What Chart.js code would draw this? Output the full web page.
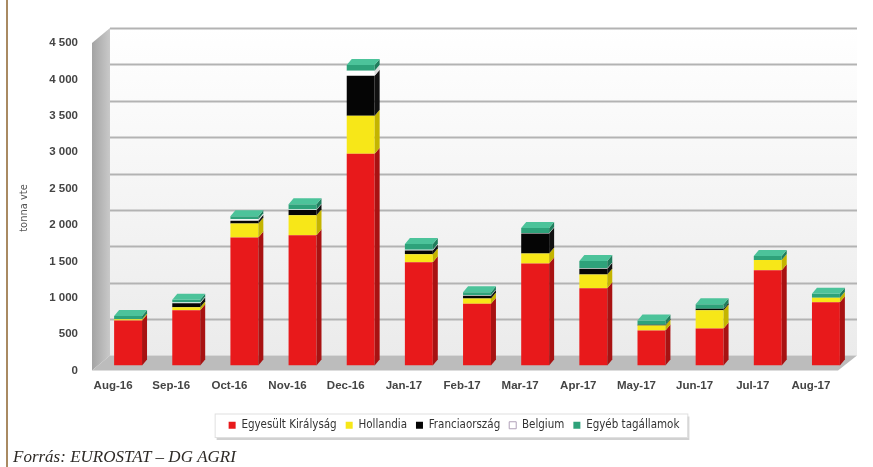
<!DOCTYPE html>
<html><head><meta charset="utf-8">
<script src="https://cdn.jsdelivr.net/npm/chart.js@4.4.1/dist/chart.umd.min.js"></script>
<style>html,body{margin:0;padding:0;background:#fff}#wrap{width:873px;height:467px;position:relative}</style>
</head><body><div id="wrap"><canvas id="c"></canvas></div>
<script>
const categories = ['Aug-16','Sep-16','Oct-16','Nov-16','Dec-16','Jan-17','Feb-17','Mar-17','Apr-17','May-17','Jun-17','Jul-17','Aug-17'];
const seriesNames = ['Egyesült Királyság','Hollandia','Franciaország','Belgium','Egyéb tagállamok'];
const ukValues     = [620, 760, 1760, 1790, 2910, 1420, 850, 1400, 1060, 480, 510, 1310, 870];
const nlValues     = [15, 40, 190, 275, 520, 110, 70, 140, 190, 70, 250, 140, 60];
const frValues     = [0, 55, 40, 70, 550, 50, 40, 275, 80, 10, 20, 0, 0];
const beValues     = [0, 10, 20, 10, 70, 10, 5, 5, 5, 0, 0, 0, 0];
const otherValues  = [45, 40, 40, 70, 80, 80, 40, 70, 100, 60, 60, 55, 55];
const yTickValues  = [0, 500, 1000, 1500, 2000, 2500, 3000, 3500, 4000, 4500];
const yAxisTitle = 'tonna vte';
const sourceNote = 'Forrás: EUROSTAT – DG AGRI';

const colors   = ['#e8191b','#f7e718','#050505','#ffffff','#2ea27a'];
const sideCols = ['#a81212','#c4b400','#111111','#dddddd','#1f7d5c'];
const topCols  = ['#f05a5a','#fbf06a','#444444','#f6f6f6','#4cc39a'];
const valueSets = [ukValues, nlValues, frValues, beValues, otherValues];

const fmt = v => v >= 1000 ? Math.floor(v/1000) + ' ' + String(v % 1000).padStart(3,'0') : String(v);

const DX = 5, DY = 6, WALL = 10, LEGEND_SHIFT = 7;

const decor = {
  id: 'decor',
  afterLayout(chart) {
    if (chart.legend) { chart.legend.left += LEGEND_SHIFT; chart.legend.right += LEGEND_SHIFT; }
  },
  beforeDraw(chart) {
    const ctx = chart.ctx, ca = chart.chartArea, ys = chart.scales.y;
    ctx.save();
    ctx.fillStyle = '#fff';
    ctx.fillRect(0, 0, chart.width, chart.height);
    ctx.fillStyle = '#a98a62';
    ctx.fillRect(6, 0, 2, chart.height);
    const topBack = ys.getPixelForValue(4500) - WALL;
    const botBack = ca.bottom - WALL;
    const bl = ca.left + 11, br = ca.right + 2;
    const fl = ca.left - 7;
    const g = ctx.createLinearGradient(0, topBack, 0, botBack);
    g.addColorStop(0, '#ffffff'); g.addColorStop(1, '#ebebeb');
    ctx.fillStyle = g;
    ctx.fillRect(bl, topBack, br - bl, botBack - topBack);
    const lg = ctx.createLinearGradient(fl, 0, bl, 0);
    lg.addColorStop(0, '#a3a3a3'); lg.addColorStop(1, '#c9c9c9');
    ctx.fillStyle = lg;
    ctx.beginPath();
    ctx.moveTo(fl, topBack + 15); ctx.lineTo(bl, topBack); ctx.lineTo(bl, botBack); ctx.lineTo(fl, ca.bottom + 5);
    ctx.closePath(); ctx.fill();
    ctx.fillStyle = '#bcbcbc';
    ctx.beginPath();
    ctx.moveTo(fl, ca.bottom + 5); ctx.lineTo(br - 19, ca.bottom + 5); ctx.lineTo(br, botBack); ctx.lineTo(bl, botBack);
    ctx.closePath(); ctx.fill();
    ctx.strokeStyle = '#b3b3b3'; ctx.lineWidth = 2;
    yTickValues.forEach(v => {
      if (v === 0) return;
      const py = Math.round(ys.getPixelForValue(v) - WALL) + 0.5;
      ctx.beginPath(); ctx.moveTo(bl, py); ctx.lineTo(br, py); ctx.stroke();
    });
    const hb = chart.legend && chart.legend.legendHitBoxes;
    if (hb && hb.length) {
      const x0 = hb[0].left - 14, x1 = hb[hb.length-1].left + hb[hb.length-1].width + 8;
      const y0 = hb[0].top - 6, h = hb[0].height + 12;
      ctx.fillStyle = 'rgba(0,0,0,0.18)';
      ctx.fillRect(x0 + 2, y0 + 3, x1 - x0, h);
      ctx.fillStyle = '#fff';
      ctx.fillRect(x0, y0, x1 - x0, h);
      ctx.strokeStyle = '#e0e0e0'; ctx.lineWidth = 1;
      ctx.strokeRect(x0 + 0.5, y0 + 0.5, x1 - x0, h);
    }
    ctx.restore();
  },
  afterDatasetsDraw(chart) {
    const ctx = chart.ctx;
    ctx.save();
    const topIdx = categories.map((_, j) => {
      let t = -1; valueSets.forEach((vs, i) => { if (vs[j] > 0) t = i; }); return t;
    });
    valueSets.forEach((vs, i) => {
      const meta = chart.getDatasetMeta(i);
      meta.data.forEach((el, j) => {
        if (!(vs[j] > 0)) return;
        const p = el.getProps(['x','y','base','width'], true);
        const r = p.x + p.width/2, l = p.x - p.width/2;
        ctx.fillStyle = sideCols[i];
        ctx.beginPath();
        ctx.moveTo(r, p.y); ctx.lineTo(r + DX, p.y - DY); ctx.lineTo(r + DX, p.base - DY); ctx.lineTo(r, p.base);
        ctx.closePath(); ctx.fill();
        if (topIdx[j] === i) {
          ctx.fillStyle = topCols[i];
          ctx.beginPath();
          ctx.moveTo(l, p.y); ctx.lineTo(l + DX, p.y - DY); ctx.lineTo(r + DX, p.y - DY); ctx.lineTo(r, p.y);
          ctx.closePath(); ctx.fill();
        }
      });
    });
    ctx.restore();
  },
  afterDraw(chart) {
    const ctx = chart.ctx;
    ctx.save();
    ctx.fillStyle = '#2e2a26';
    ctx.font = 'italic 17px "Liberation Serif", serif';
    ctx.textBaseline = 'alphabetic';
    ctx.fillText(sourceNote, 13, 462);
    ctx.translate(24, 208);
    ctx.rotate(-Math.PI/2);
    ctx.fillStyle = '#555';
    ctx.font = '11px "Liberation Sans Narrow", "DejaVu Sans Condensed", sans-serif';
    ctx.textAlign = 'center'; ctx.textBaseline = 'middle';
    ctx.fillText(yAxisTitle, 0, 0);
    ctx.restore();
  }
};

const tickFont = { family: '"Liberation Sans", Arial, sans-serif', size: 11.5, weight: 'bold' };

new Chart(document.getElementById('c'), {
  type: 'bar',
  data: {
    labels: categories,
    datasets: valueSets.map((vs, i) => ({
      label: seriesNames[i], data: vs, backgroundColor: colors[i], borderWidth: 0,
      barPercentage: 0.48, categoryPercentage: 1.0
    }))
  },
  options: {
    responsive: true, maintainAspectRatio: false, animation: false, devicePixelRatio: 1,
    layout: { padding: { left: 39, right: 18, top: 38, bottom: 26 } },
    scales: {
      x: {
        stacked: true,
        grid: { display: false, drawTicks: false }, border: { display: false },
        ticks: { font: tickFont, color: '#444', padding: 13, labelOffset: -15, maxRotation: 0, autoSkip: false },
        afterFit(s) { s.height = 45; }
      },
      y: {
        stacked: true, min: 0, max: 4500,
        grid: { display: false, drawTicks: false }, border: { display: false },
        ticks: { stepSize: 500, font: tickFont, color: '#444', padding: 21, labelOffset: 5, callback: v => fmt(v) },
        afterFit(s) { s.width = 60; }
      }
    },
    plugins: {
      tooltip: { enabled: false },
      legend: {
        position: 'bottom',
        labels: {
          font: { family: '"Liberation Sans Narrow", "DejaVu Sans Condensed", sans-serif', size: 11.5 },
          color: '#333', boxWidth: 7, boxHeight: 7, padding: 9,
          generateLabels(chart) {
            const items = Chart.defaults.plugins.legend.labels.generateLabels(chart);
            items.forEach((it, i) => {
              it.lineWidth = i === 3 ? 1 : 0;
              it.strokeStyle = i === 3 ? '#b0a0b8' : it.fillStyle;
            });
            return items;
          }
        }
      }
    }
  },
  plugins: [decor]
});
</script>
</body></html>
